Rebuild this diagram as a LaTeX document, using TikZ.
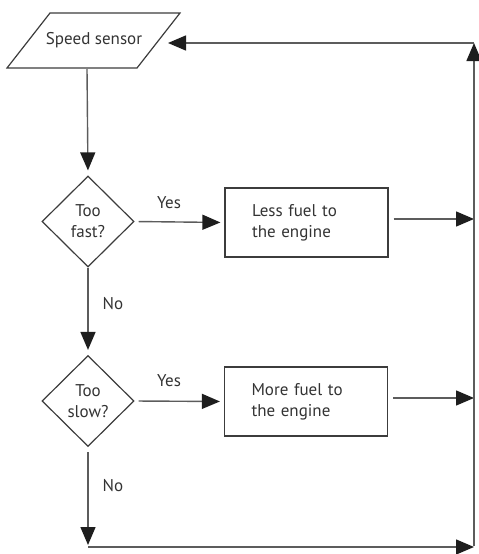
\documentclass[tikz,border=0pt]{standalone}
\usepackage{fontspec}
\setmainfont{PT Sans}
\usetikzlibrary{shapes.geometric,arrows.meta}
\definecolor{ink}{HTML}{333333}
\definecolor{wire}{HTML}{5C5C5C}
\definecolor{edge}{HTML}{3C3C3C}
\definecolor{tip}{HTML}{1E1E1E}
\begin{document}
\begin{tikzpicture}[x=1pt,y=-1pt,
  every node/.style={text=ink,font=\fontsize{17}{21}\selectfont},
  decision/.style={shape=diamond,draw=edge,line width=1.2pt,minimum width=92pt,minimum height=91pt,inner sep=0pt,align=center},
  actionbox/.style={draw=edge,line width=1.2pt,minimum height=69pt,text width=109pt,inner xsep=27pt,align=left},
  flow/.style={draw=wire,line width=1.4pt,-{Triangle[length=18pt,width=15pt,fill=tip,color=tip]}},
  lbl/.style={inner sep=0pt}]
\path[use as bounding box] (0,0) rectangle (479,554);

% input: speed sensor (parallelogram)
\draw[edge,line width=1.2pt] (50,13) -- (180,13) -- (137,68) -- (7,68) -- cycle;
\node (sensor) at (94,40.5) {Speed sensor};
\coordinate (sensorS) at (87,69);
\coordinate (sensorE) at (168,43);

% decisions
\node[decision] (fast) at (88,221.5) {Too\\fast?};
\node[decision] (slow) at (88,401) {Too\\slow?};

% actions
\node[actionbox] (less) at (306.5,222.5) {Less fuel to\\the engine};
\node[actionbox] (more) at (306,401.5) {More fuel to\\the engine};

% return path corners
\coordinate (bl) at (88,547);
\coordinate (br) at (474,547);
\coordinate (tr) at (474,43);
\coordinate (lessR) at (474,219);
\coordinate (moreR) at (474,398);

% connectors
\draw[flow,shorten >=5pt] (sensorS) -- (fast.north);
\draw[flow,shorten <=4pt,shorten >=4pt] (fast.east) -- (less.west);
\draw[flow,shorten <=4pt,shorten >=4pt] (slow.east) -- (more.west);
\draw[flow,shorten <=5pt] (less.east |- lessR) -- (lessR);
\draw[flow,shorten <=5pt] (more.east |- moreR) -- (moreR);
\draw[flow,shorten >=5pt] (fast.south) -- (slow.north);
\draw[flow,shorten <=5pt,shorten >=2pt] (slow.south) -- (bl);
\draw[flow] (bl) -- (br);
\draw[flow] ([yshift=1pt]br) -- (tr);
\draw[flow] (tr) -- (sensorE);

% branch labels
\node[lbl] (yes1) at (169,203) {Yes};
\node[lbl] (no1) at (113,304) {No};
\node[lbl] (yes2) at (169,381) {Yes};
\node[lbl] (no2) at (113,486) {No};
\end{tikzpicture}
\end{document}
